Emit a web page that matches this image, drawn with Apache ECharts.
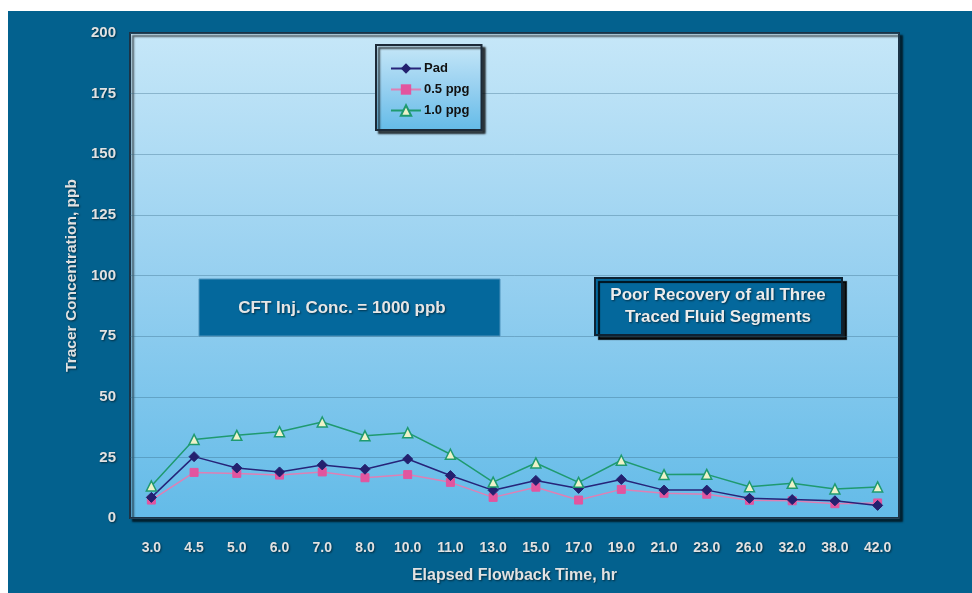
<!DOCTYPE html>
<html>
<head>
<meta charset="utf-8">
<script src="https://cdn.jsdelivr.net/npm/echarts@6/dist/echarts.min.js"></script>
<style>
  html, body { margin: 0; padding: 0; background: #ffffff; }
  #chart { width: 972px; height: 593px; }
</style>
</head>
<body>
<div id="chart"></div>
<script>
// Elapsed flowback time categories (hr)
var categories = ['3.0', '4.5', '5.0', '6.0', '7.0', '8.0', '10.0', '11.0', '13.0',
                  '15.0', '17.0', '19.0', '21.0', '23.0', '26.0', '32.0', '38.0', '42.0'];

// Tracer concentration, ppb, per traced fluid segment
var padValues   = [8.5, 25.3, 20.6, 19.0, 21.9, 20.1, 24.3, 17.5, 11.4, 15.5, 12.2, 15.9, 11.5, 11.5, 8.1, 7.6, 7.1, 5.2];
var ppg05Values = [7.4, 18.8, 18.4, 17.7, 19.0, 16.6, 17.9, 14.7, 8.5, 12.7, 7.4, 11.8, 10.2, 9.8, 7.3, 7.1, 5.9, 6.2];
var ppg10Values = [13.2, 32.4, 34.1, 35.6, 39.6, 33.9, 35.2, 26.3, 14.8, 22.7, 14.7, 23.8, 17.9, 18.0, 12.9, 14.3, 12.0, 12.8];

var seriesNames = ['Pad', '0.5 ppg', '1.0 ppg'];

// Y axis range
var yMin = 0, yMax = 200, yStep = 25;

var labelText = {
  color: '#e2e2e2',
  fontFamily: 'Liberation Sans, Arial, sans-serif',
  fontWeight: 'bold',
  fontSize: 14,
  textShadowColor: 'rgba(0,0,0,0.55)',
  textShadowBlur: 2,
  textShadowOffsetX: 1,
  textShadowOffsetY: 1
};

function plotGradient() {
  return new echarts.graphic.LinearGradient(0, 0, 0, 1, [
    { offset: 0, color: '#c6e7f8' },
    { offset: 0.5, color: '#97d0f0' },
    { offset: 1, color: '#63bbe8' }
  ]);
}

var chart = echarts.init(document.getElementById('chart'), null, { renderer: 'canvas' });

var option = {
  backgroundColor: '#ffffff',
  animation: false,
  graphic: [
    // dark slide backdrop
    { type: 'rect', z: -10, shape: { x: 8, y: 11, width: 964, height: 582 }, style: { fill: '#03618e' } },
    // annotation: injection concentration
    {
      type: 'group', z: 100,
      children: [
        { type: 'rect', shape: { x: 199, y: 279, width: 301, height: 57 },
          style: { fill: '#04689c', stroke: '#4f93bd', lineWidth: 1 } },
        { type: 'text', x: 342, y: 308,
          style: Object.assign({}, labelText, {
            text: 'CFT Inj. Conc. = 1000 ppb', fill: '#e6e6e6', fontSize: 17,
            align: 'center', verticalAlign: 'middle'
          }) }
      ]
    },
    // annotation: recovery note
    {
      type: 'group', z: 100,
      children: [
        { type: 'rect', shape: { x: 595, y: 278, width: 247, height: 57 },
          style: { fill: '#04689c', stroke: '#0d2233', lineWidth: 2,
                   shadowColor: 'rgba(0,0,0,0.85)', shadowOffsetX: 4, shadowOffsetY: 4, shadowBlur: 1 } },
        { type: 'text', x: 718, y: 306,
          style: Object.assign({}, labelText, {
            text: 'Poor Recovery of all Three\nTraced Fluid Segments', fill: '#ececec', fontSize: 17,
            lineHeight: 22, align: 'center', verticalAlign: 'middle'
          }) }
      ]
    }
  ],
  grid: {
    left: 130, top: 33, width: 769, height: 485,
    show: true,
    backgroundColor: plotGradient(),
    borderColor: '#1c3346',
    borderWidth: 2,
    shadowColor: 'rgba(0,0,0,0.6)',
    shadowBlur: 2,
    shadowOffsetX: 3,
    shadowOffsetY: 3,
    containLabel: false
  },
  legend: {
    data: seriesNames,
    orient: 'vertical',
    left: 376, top: 45,
    padding: [17, 12, 13, 14],
    itemGap: 8,
    itemWidth: 30,
    itemHeight: 13,
    backgroundColor: plotGradient(),
    borderColor: '#1c2a38',
    borderWidth: 2,
    shadowColor: 'rgba(0,0,0,0.7)',
    shadowBlur: 2,
    shadowOffsetX: 3,
    shadowOffsetY: 3,
    textStyle: {
      color: '#111111',
      fontFamily: 'Liberation Sans, Arial, sans-serif',
      fontWeight: 'bold',
      fontSize: 13,
      padding: [0, 0, 0, -2]
    }
  },
  xAxis: {
    type: 'category',
    data: categories,
    boundaryGap: true,
    axisLine: { show: false },
    axisTick: { show: false },
    axisLabel: Object.assign({}, labelText, { margin: 23, interval: 0 }),
    splitLine: { show: false },
    name: 'Elapsed Flowback Time, hr',
    nameLocation: 'middle',
    nameGap: 50,
    nameTextStyle: Object.assign({}, labelText, { fontSize: 16 })
  },
  yAxis: {
    type: 'value',
    min: yMin, max: yMax, interval: yStep,
    axisLine: { show: false },
    axisTick: { show: false },
    axisLabel: Object.assign({}, labelText, { margin: 14, fontSize: 15 }),
    splitLine: { show: true, lineStyle: { color: 'rgba(50,100,130,0.35)', width: 1 } },
    name: 'Tracer Concentration, ppb',
    nameLocation: 'middle',
    nameGap: 50,
    nameTextStyle: Object.assign({}, labelText, { fontSize: 15.5 })
  },
  series: [
    {
      name: seriesNames[0], type: 'line', data: padValues,
      symbol: 'diamond', symbolSize: 10,
      lineStyle: { color: '#262479', width: 1.5 },
      itemStyle: { color: '#23206f', borderColor: '#23206f' },
      z: 4
    },
    {
      name: seriesNames[1], type: 'line', data: ppg05Values,
      symbol: 'rect', symbolSize: 8,
      lineStyle: { color: '#df7fb4', width: 1.5 },
      itemStyle: { color: '#e2559f', borderColor: '#e2559f' },
      z: 3
    },
    {
      name: seriesNames[2], type: 'line', data: ppg10Values,
      symbol: 'triangle', symbolSize: 10,
      lineStyle: { color: '#1f9a70', width: 1.5 },
      itemStyle: { color: '#eef2c8', borderColor: '#1f9a70', borderWidth: 1.5 },
      z: 5
    }
  ]
};

chart.setOption(option);
</script>
</body>
</html>
